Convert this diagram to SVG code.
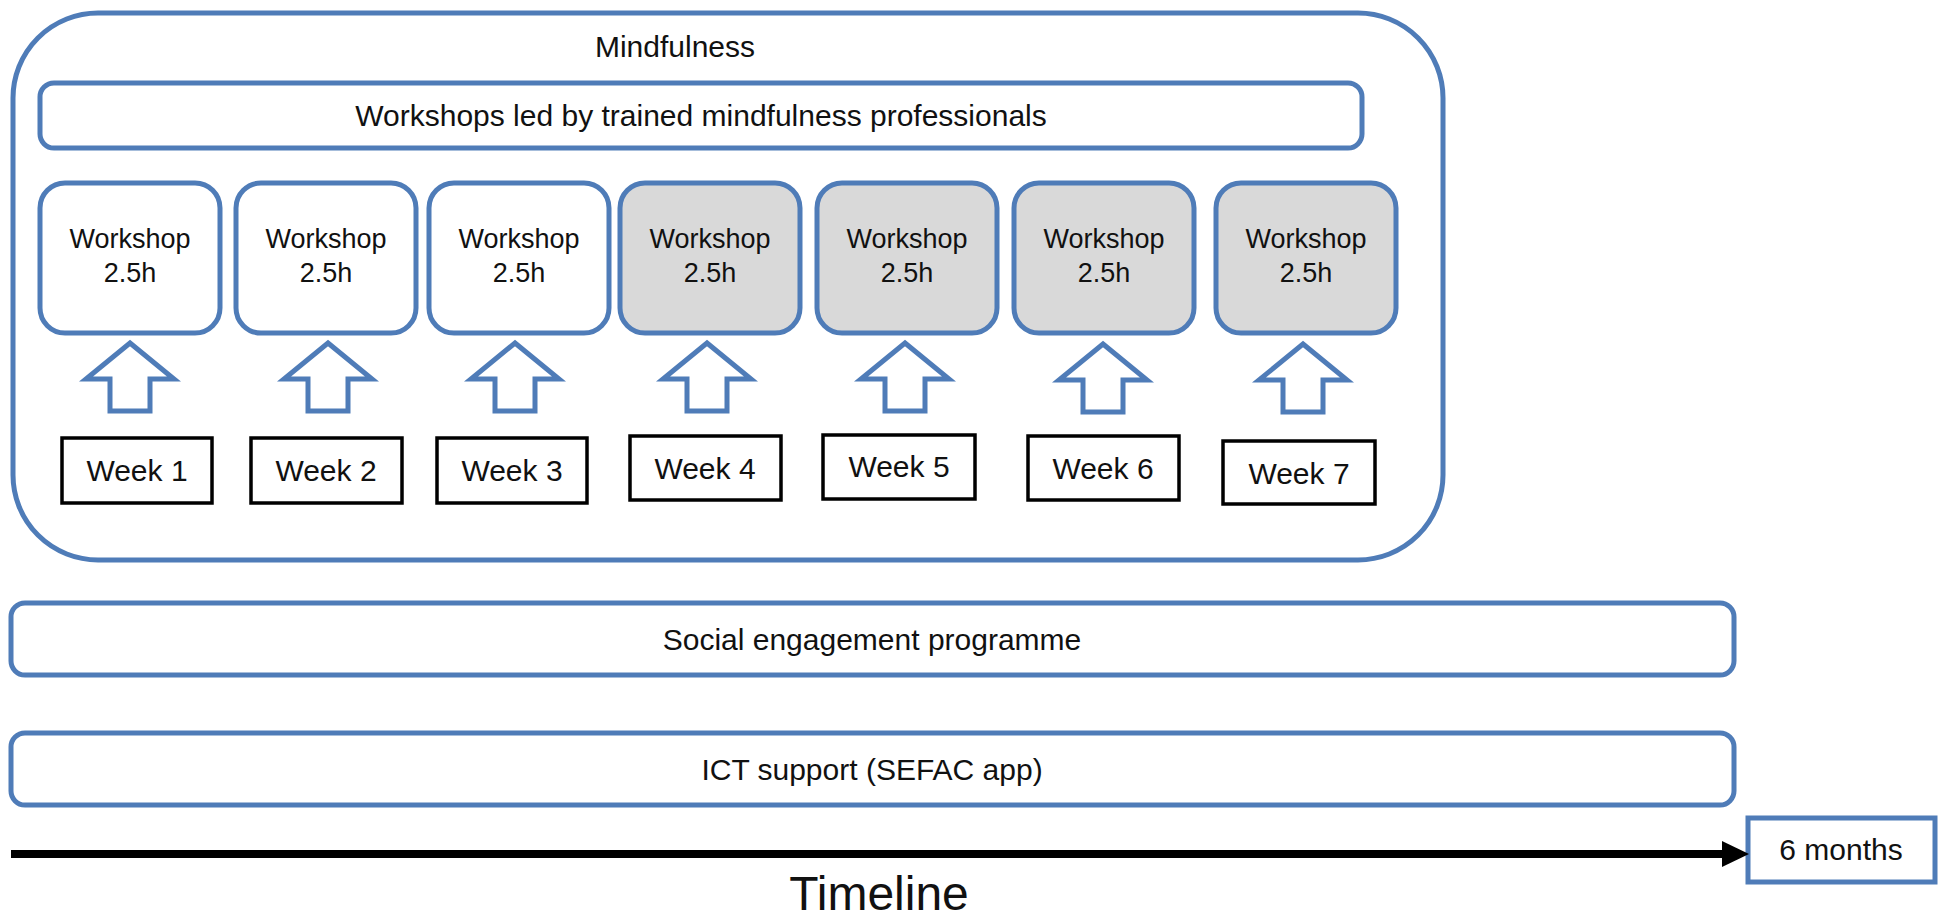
<svg xmlns="http://www.w3.org/2000/svg" width="1946" height="920" viewBox="0 0 1946 920">
<style>
.blue{fill:#fff;stroke:#4f7cb8;stroke-width:5}
.grey{fill:#d9d9d9;stroke:#4f7cb8;stroke-width:5}
.wk{fill:#fff;stroke:#000;stroke-width:3.5}
.t{font-family:"Liberation Sans",Arial,sans-serif;fill:#111;text-anchor:middle}
.big{font-size:30px}
.ws{font-size:27px}
.blk{fill:#fff;stroke:#4f7cb8;stroke-width:5;stroke-linejoin:miter}
</style>
<defs>
<path id="uparrow" d="M0,-34 L44,2 L20,2 L20,34 L-20,34 L-20,2 L-44,2 Z"/>
</defs>
<rect width="1946" height="920" fill="#fff"/>
<g id="mindfulness">
<rect class="blue" x="13" y="13" width="1430" height="547" rx="85"/>
<text class="t big" x="675" y="57">Mindfulness</text>
</g>
<g id="workshops-led">
<rect class="blue" x="40" y="83" width="1322" height="65" rx="14"/>
<text class="t big" x="701" y="126">Workshops led by trained mindfulness professionals</text>
</g>
<g id="workshop1"><rect class="blue" x="40" y="183" width="180" height="150" rx="25"/><text class="t ws" x="130" y="248">Workshop</text><text class="t ws" x="130" y="282">2.5h</text></g>
<g id="workshop2"><rect class="blue" x="236" y="183" width="180" height="150" rx="25"/><text class="t ws" x="326" y="248">Workshop</text><text class="t ws" x="326" y="282">2.5h</text></g>
<g id="workshop3"><rect class="blue" x="429" y="183" width="180" height="150" rx="25"/><text class="t ws" x="519" y="248">Workshop</text><text class="t ws" x="519" y="282">2.5h</text></g>
<g id="workshop4"><rect class="grey" x="620" y="183" width="180" height="150" rx="25"/><text class="t ws" x="710" y="248">Workshop</text><text class="t ws" x="710" y="282">2.5h</text></g>
<g id="workshop5"><rect class="grey" x="817" y="183" width="180" height="150" rx="25"/><text class="t ws" x="907" y="248">Workshop</text><text class="t ws" x="907" y="282">2.5h</text></g>
<g id="workshop6"><rect class="grey" x="1014" y="183" width="180" height="150" rx="25"/><text class="t ws" x="1104" y="248">Workshop</text><text class="t ws" x="1104" y="282">2.5h</text></g>
<g id="workshop7"><rect class="grey" x="1216" y="183" width="180" height="150" rx="25"/><text class="t ws" x="1306" y="248">Workshop</text><text class="t ws" x="1306" y="282">2.5h</text></g>
<g id="week1"><rect class="wk" x="62" y="438" width="150" height="65"/><text class="t big" x="137" y="481">Week 1</text></g>
<g id="week2"><rect class="wk" x="251" y="438" width="151" height="65"/><text class="t big" x="326" y="481">Week 2</text></g>
<g id="week3"><rect class="wk" x="437" y="438" width="150" height="65"/><text class="t big" x="512" y="481">Week 3</text></g>
<g id="week4"><rect class="wk" x="630" y="436" width="151" height="64"/><text class="t big" x="705" y="479">Week 4</text></g>
<g id="week5"><rect class="wk" x="823" y="435" width="152" height="64"/><text class="t big" x="899" y="477">Week 5</text></g>
<g id="week6"><rect class="wk" x="1028" y="436" width="151" height="64"/><text class="t big" x="1103" y="479">Week 6</text></g>
<g id="week7"><rect class="wk" x="1223" y="441" width="152" height="63"/><text class="t big" x="1299" y="484">Week 7</text></g>
<g id="social">
<rect class="blue" x="11" y="603" width="1723" height="72" rx="14"/>
<text class="t big" x="872" y="650">Social engagement programme</text>
</g>
<g id="ict">
<rect class="blue" x="11" y="733" width="1723" height="72" rx="14"/>
<text class="t big" x="872" y="780">ICT support (SEFAC app)</text>
</g>
<g id="six-months">
<rect class="blue" x="1748" y="818" width="187" height="64"/>
<text class="t big" x="1841" y="860">6 months</text>
</g>
<g id="timeline-label">
<text class="t" style="font-size:48px" x="879" y="910">Timeline</text>
</g>
<g id="connectors">
<use href="#uparrow" class="blk" x="130" y="377"/>
<use href="#uparrow" class="blk" x="328" y="377"/>
<use href="#uparrow" class="blk" x="515" y="377"/>
<use href="#uparrow" class="blk" x="707" y="377"/>
<use href="#uparrow" class="blk" x="905" y="377"/>
<use href="#uparrow" class="blk" x="1103" y="378"/>
<use href="#uparrow" class="blk" x="1303" y="378"/>
<line x1="11" y1="854" x2="1728" y2="854" stroke="#000" stroke-width="8"/>
<polygon points="1722,841 1749,854 1722,867" fill="#000"/>
</g>
</svg>
